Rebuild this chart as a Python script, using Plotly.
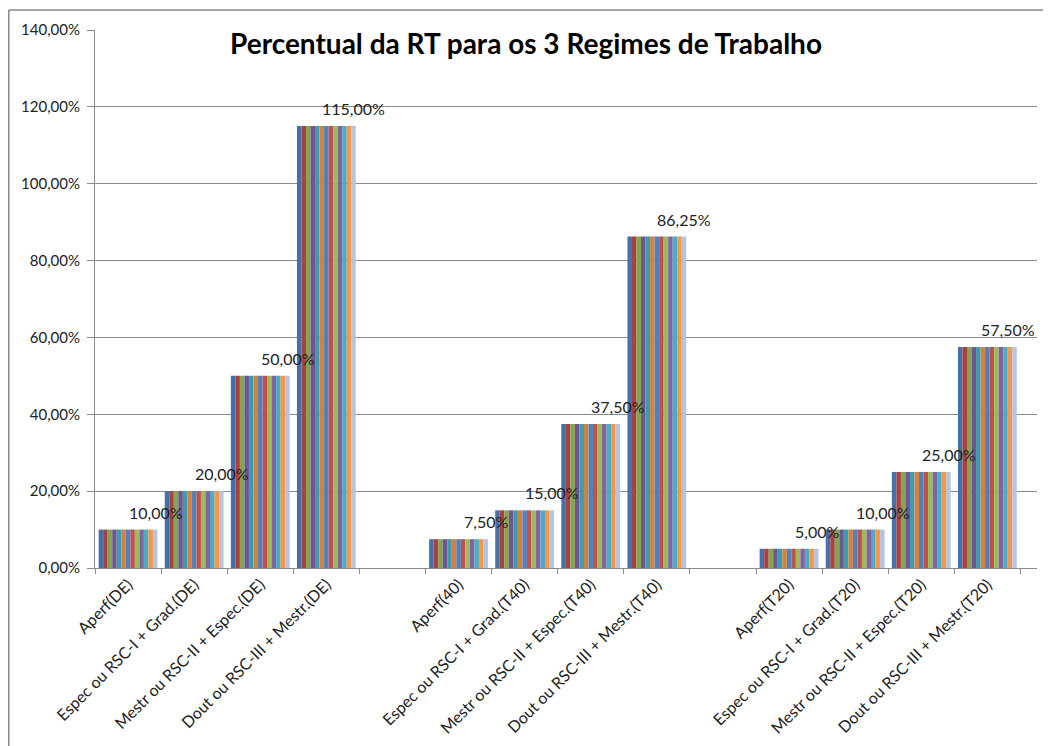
import plotly.graph_objects as go

categories = [
    "Aperf(DE)", "Espec ou RSC-I + Grad.(DE)", "Mestr ou RSC-II + Espec.(DE)", "Dout ou RSC-III + Mestr.(DE)",
    " ",
    "Aperf(40)", "Espec ou RSC-I + Grad.(T40)", "Mestr ou RSC-II + Espec.(T40)", "Dout ou RSC-III + Mestr.(T40)",
    "  ",
    "Aperf(T20)", "Espec ou RSC-I + Grad.(T20)", "Mestr ou RSC-II + Espec.(T20)", "Dout ou RSC-III + Mestr.(T20)",
]
values = [0.10, 0.20, 0.50, 1.15, None, 0.075, 0.15, 0.375, 0.8625, None, 0.05, 0.10, 0.25, 0.575]
series_names = [f"Série{i}" for i in range(1, 14)]
series_colors = ["#4570A8", "#A7423F", "#86A34F", "#6D5691", "#3C9AB1", "#D6813B",
                 "#4F81BD", "#C0504D", "#9BBB59", "#8064A2", "#4BACC6", "#F79646", "#B4C5E2"]

FONT = "Lato"
# page body has an 8px margin, so the figure is drawn 8px in from the window's corner
W, H = 1043, 738
ML, MR, MT, MB = 87, 14, 22, 178
PW, PH = W - ML - MR, H - MT - MB
BARGAP = 0.11

fig = go.Figure()
for name, col in zip(series_names, series_colors):
    fig.add_trace(go.Bar(x=categories, y=values, name=name, marker_color=col, marker_line_width=0))

# data labels above the last series bar of each category
slot = PW / len(categories)
group_w = slot * (1 - BARGAP)
bar_w = group_w / len(series_names)
last_off = group_w / 2 - bar_w / 2
n_valid = [i for i, v in enumerate(values) if v is not None]
for i in n_valid:
    v = values[i]
    label = f"{v * 100:.2f}%".replace(".", ",")
    xs = last_off if i != n_valid[-1] else last_off - 7
    fig.add_annotation(x=categories[i], y=v, text=label, showarrow=False,
                       xanchor="center", yanchor="bottom", xshift=xs, yshift=6,
                       font=dict(family=FONT, size=16, color="#222"))

# outer chart border (left and top edges visible)
bx0 = (0.75 - ML) / PW
by0 = (H - 2 - MB) / PH
fig.add_shape(type="line", xref="paper", yref="paper", x0=bx0, x1=bx0, y0=by0, y1=-MB / PH,
              line=dict(color="#8a8a8a", width=1.5))
fig.add_shape(type="line", xref="paper", yref="paper", x0=bx0, x1=(W - ML) / PW, y0=by0, y1=by0,
              line=dict(color="#8a8a8a", width=1.5))

fig.update_layout(
    width=W, height=H,
    margin=dict(l=ML, r=MR, t=MT, b=MB, autoexpand=False),
    paper_bgcolor="white", plot_bgcolor="white",
    barmode="group", bargap=BARGAP, bargroupgap=0,
    showlegend=False,
    separators=",.",
    title=dict(text="<b>Percentual da RT para os 3 Regimes de Trabalho</b>",
               x=518 / W, xanchor="center", y=1 - 36 / H, yanchor="middle",
               font=dict(family=FONT, size=28, color="#000")),
    font=dict(family=FONT, size=15, color="#222"),
    xaxis=dict(type="category", tickangle=-45, showline=True, linecolor="#8a8a8a", linewidth=1,
               ticks="outside", tickson="boundaries", ticklen=5, tickcolor="#8a8a8a",
               showgrid=False, tickfont=dict(family=FONT, size=16, color="#222")),
    yaxis=dict(range=[0, 1.4], dtick=0.2, tickformat=".2%", showline=True, linecolor="#8a8a8a",
               ticks="outside", ticklen=7, tickcolor="#8a8a8a", showgrid=True, gridcolor="#8a8a8a",
               gridwidth=1, zeroline=False, ticklabelstandoff=4,
               tickfont=dict(family=FONT, size=15, color="#222")),
)

fig.write_html("out.html")
